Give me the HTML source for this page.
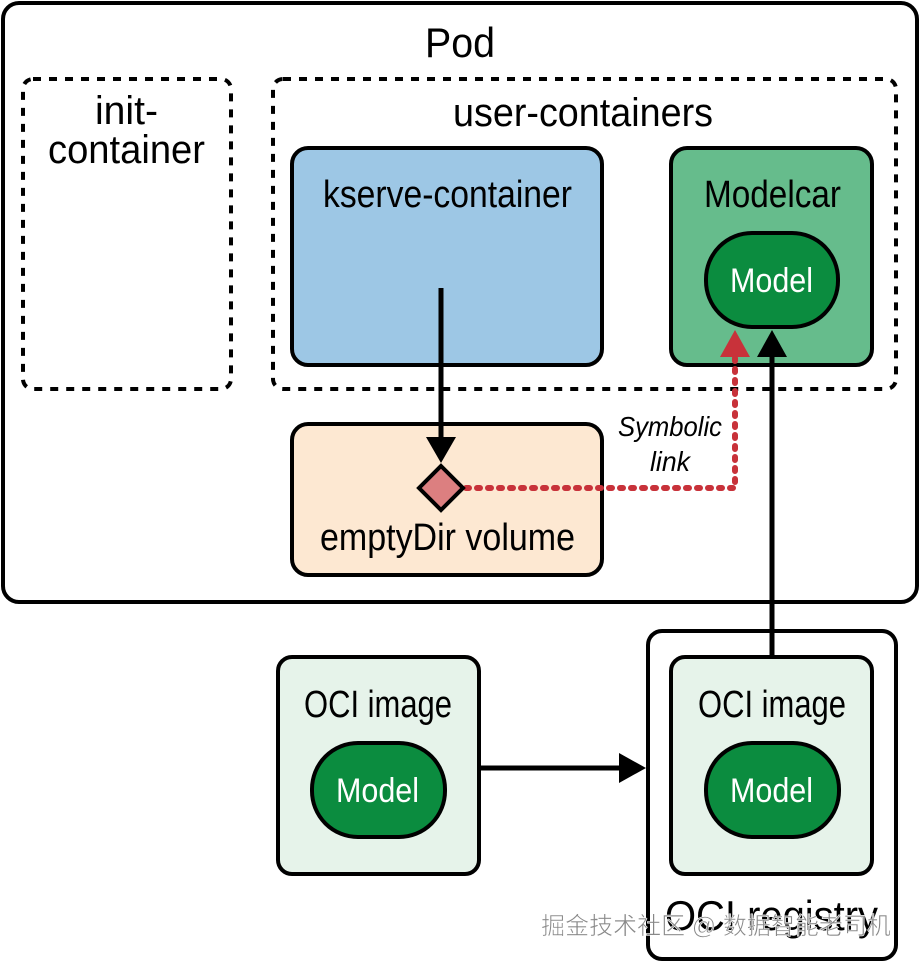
<!DOCTYPE html>
<html><head><meta charset="utf-8"><style>
html,body{margin:0;padding:0;background:#fff;}
svg{display:block;}
text{font-family:"Liberation Sans",sans-serif;}
</style></head><body>
<svg width="920" height="964" viewBox="0 0 920 964" xmlns="http://www.w3.org/2000/svg">
<rect x="3" y="3" width="914" height="599" rx="16" fill="#fff" stroke="#000" stroke-width="4"/>
<text x="425" y="57" font-size="42" textLength="70" lengthAdjust="spacingAndGlyphs">Pod</text>
<rect x="23" y="79" width="208" height="310" rx="10" fill="none" stroke="#000" stroke-width="4" stroke-dasharray="8,8"/>
<text x="95" y="124" font-size="40" textLength="63" lengthAdjust="spacingAndGlyphs">init-</text>
<text x="48" y="163" font-size="40" textLength="157" lengthAdjust="spacingAndGlyphs">container</text>
<rect x="273" y="79" width="623" height="310" rx="10" fill="none" stroke="#000" stroke-width="4" stroke-dasharray="8,8"/>
<text x="453" y="126" font-size="40" textLength="260" lengthAdjust="spacingAndGlyphs">user-containers</text>
<rect x="292" y="148" width="310" height="217" rx="16" fill="#9dc7e5" stroke="#000" stroke-width="4"/>
<text x="323" y="207" font-size="38" textLength="249" lengthAdjust="spacingAndGlyphs">kserve-container</text>
<rect x="671" y="148" width="201" height="217" rx="16" fill="#66bc8c" stroke="#000" stroke-width="4"/>
<text x="704" y="207" font-size="38" textLength="137" lengthAdjust="spacingAndGlyphs">Modelcar</text>
<rect x="706" y="233" width="132" height="94" rx="46" fill="#0b8c3f" stroke="#000" stroke-width="4"/>
<text x="730" y="292" font-size="34" fill="#fff" textLength="83" lengthAdjust="spacingAndGlyphs">Model</text>
<rect x="292" y="424" width="310" height="151" rx="16" fill="#fde8d2" stroke="#000" stroke-width="4"/>
<text x="320" y="550" font-size="38" textLength="255" lengthAdjust="spacingAndGlyphs">emptyDir volume</text>
<line x1="441" y1="288" x2="441" y2="440" stroke="#000" stroke-width="5"/>
<path d="M426,437L456,437L441,463z" fill="#000"/>
<path d="M466,488L735,488L735,356" fill="none" stroke="#c8323a" stroke-width="6" stroke-dasharray="3,8" stroke-linecap="round"/>
<path d="M720,357L750,357L735,330z" fill="#c8323a"/>
<path d="M441,466L463,488L441,510L419,488z" fill="#dc7f80" stroke="#000" stroke-width="4"/>
<text x="618" y="436" font-size="28" font-style="italic" textLength="104" lengthAdjust="spacingAndGlyphs">Symbolic</text>
<text x="650" y="471" font-size="28" font-style="italic" textLength="40" lengthAdjust="spacingAndGlyphs">link</text>
<line x1="772" y1="657" x2="772" y2="354" stroke="#000" stroke-width="5"/>
<path d="M757,357L787,357L772,330z" fill="#000"/>
<rect x="278" y="657" width="201" height="217" rx="14" fill="#e6f3ea" stroke="#000" stroke-width="4"/>
<text x="304" y="717" font-size="38" textLength="148" lengthAdjust="spacingAndGlyphs">OCI image</text>
<rect x="312" y="743" width="133" height="94" rx="46" fill="#0b8c3f" stroke="#000" stroke-width="4"/>
<text x="336" y="802" font-size="34" fill="#fff" textLength="83" lengthAdjust="spacingAndGlyphs">Model</text>
<line x1="481" y1="768" x2="622" y2="768" stroke="#000" stroke-width="5"/>
<path d="M619,753L646,768L619,783z" fill="#000"/>
<rect x="648" y="631" width="248" height="328" rx="14" fill="#fff" stroke="#000" stroke-width="4"/>
<rect x="671" y="657" width="201" height="217" rx="14" fill="#e6f3ea" stroke="#000" stroke-width="4"/>
<line x1="772" y1="631" x2="772" y2="657" stroke="#000" stroke-width="5"/>
<text x="698" y="717" font-size="38" textLength="148" lengthAdjust="spacingAndGlyphs">OCI image</text>
<rect x="706" y="743" width="133" height="94" rx="46" fill="#0b8c3f" stroke="#000" stroke-width="4"/>
<text x="730" y="802" font-size="34" fill="#fff" textLength="83" lengthAdjust="spacingAndGlyphs">Model</text>
<text x="665" y="930" font-size="42" textLength="213" lengthAdjust="spacingAndGlyphs">OCI registry</text>
<text x="716" y="934" font-size="24" text-anchor="middle" fill="#888" stroke="#fff" stroke-width="0.6" style="font-family:'Liberation Sans','Noto Sans CJK SC',sans-serif">掘金技术社区 @ 数据智能老司机</text>
</svg>
</body></html>
